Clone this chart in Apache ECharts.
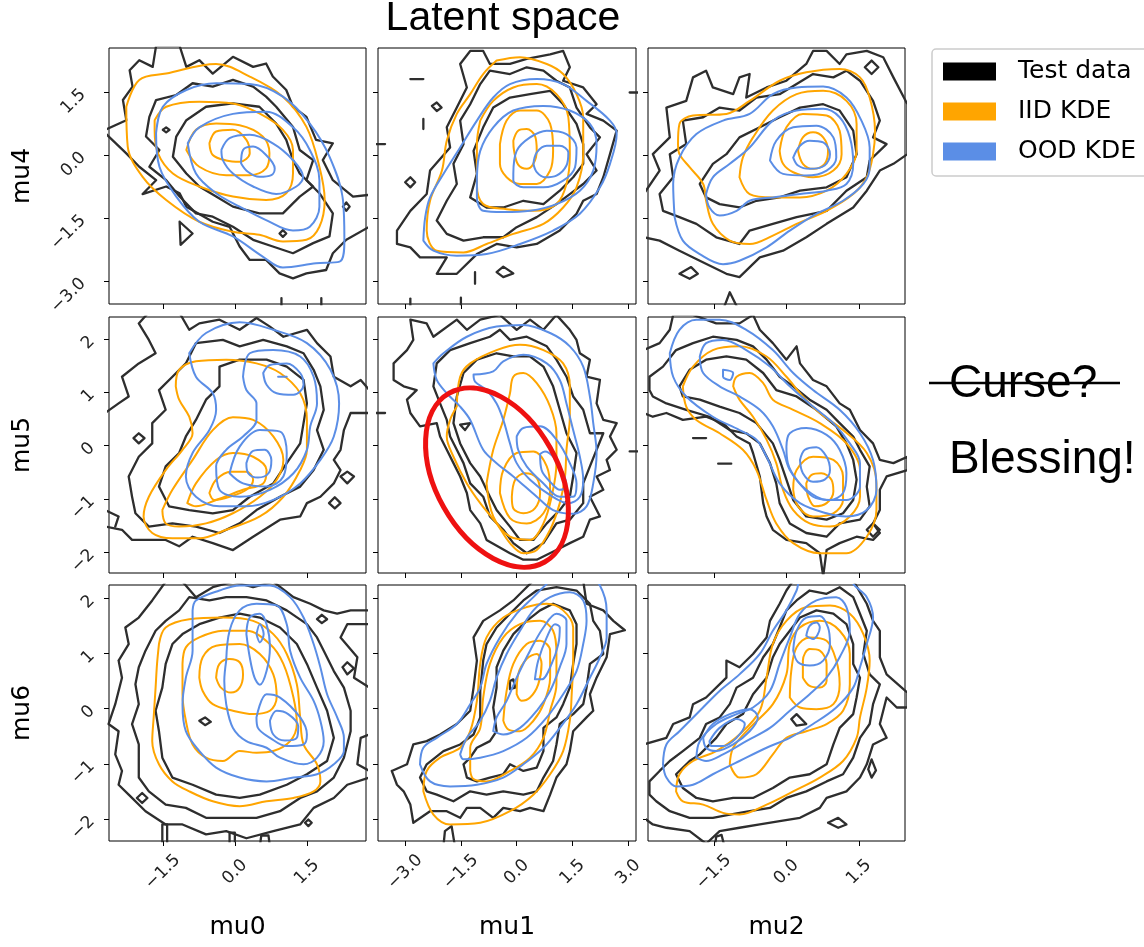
<!DOCTYPE html>
<html><head><meta charset="utf-8">
<script src="https://cdn.jsdelivr.net/npm/echarts@6/dist/echarts.min.js"></script>
<style>html,body{margin:0;padding:0;background:#fff}#c{width:1144px;height:947px}</style>
</head><body><div id="c"></div>
<script>
// ---------- axes / labels ----------
const rowNames = ['mu4','mu5','mu6'];
const colNames = ['mu0','mu1','mu2'];
const colRanges = [[-2.62,2.73],[-3.73,3.21],[-2.86,2.45]];
const rowRanges = [[-3.55,2.55],[-2.39,2.41],[-2.40,2.24]];
const colTicks = [[-1.5,0,1.5],[-3,-1.5,0,1.5,3],[-1.5,0,1.5]];
const colTickLabels = [['−1.5','0.0','1.5'],['−3.0','−1.5','0.0','1.5','3.0'],['−1.5','0.0','1.5']];
const rowTicks = [[1.5,0,-1.5,-3],[2,1,0,-1,-2],[2,1,0,-1,-2]];
const rowTickLabels = [['1.5','0.0','−1.5','−3.0'],['2','1','0','−1','−2'],['2','1','0','−1','−2']];
const legendNames = ['Test data','IID KDE','OOD KDE'];

// ---------- contour data (flat x,y lists) ----------
// row mu4 / col mu0
const r1c1_test = [
 [-2.7,0.60,-2.26,0.83,-2.33,1.31,-2.13,1.63,-2.19,2.02,-1.99,2.26,-1.71,2.10,-1.64,2.6,-1.15,2.6,-1.01,2.10,-0.74,2.26,-0.46,1.94,-0.04,2.34,0.38,2.10,0.65,2.18,0.79,1.87,1.07,1.55,1.21,1.15,1.49,0.91,1.69,0.36,2.04,0.28,1.83,-0.12,2.04,-0.60,2.46,-0.99,2.8,-0.95,2.8,-1.71,2.32,-2.02,2.04,-2.34,1.90,-2.74,1.49,-2.82,1.21,-2.94,0.93,-2.82,0.65,-2.50,0.31,-2.50,0.10,-2.18,-0.11,-1.71,-0.46,-1.59,-1.01,-1.23,-1.15,-0.91,-1.43,-0.75,-1.92,-0.93,-1.64,-0.60,-1.99,-0.28,-2.26,0.04,-2.7,0.52],
 [-1.78,0.91,-1.64,1.31,-1.22,1.43,-0.88,1.71,-0.46,1.63,-0.04,1.79,0.38,1.63,0.65,1.39,0.86,1.15,1.21,0.67,1.35,0.12,1.63,-0.12,1.49,-0.60,1.76,-0.91,2.04,-1.39,1.97,-1.94,1.63,-2.10,1.21,-2.34,0.79,-2.18,0.38,-2.02,-0.04,-1.71,-0.46,-1.47,-0.81,-1.39,-1.15,-0.99,-1.43,-0.60,-1.78,-0.28,-1.57,0.12,-1.85,0.44],
 [-1.22,0.44,-1.01,0.83,-0.60,1.15,-0.04,1.23,0.51,1.15,0.86,0.75,1.07,0.36,1.21,-0.12,1.35,-0.44,1.63,-0.75,1.35,-0.99,1.0,-1.39,0.51,-1.39,-0.04,-1.23,-0.39,-0.99,-0.74,-0.75,-1.01,-0.44,-1.29,-0.04],
 [-1.15,-1.59,-0.88,-1.87,-1.13,-2.14],
 [2.25,-1.23,2.32,-1.13,2.39,-1.23,2.32,-1.33],
 [-1.50,0.60,-1.43,0.66,-1.36,0.60,-1.43,0.54],
 [0.93,-1.87,1.0,-1.79,1.07,-1.87,1.0,-1.95]
];
const r1c1_testOpen = [[0.97,-3.41,0.97,-3.6],[1.80,-3.41,1.80,-3.6]];
const r1c1_iid = [
 [-2.26,1.15,-1.99,1.79,-1.43,1.94,-0.39,2.17,0.31,1.87,1.0,1.39,1.49,0.67,1.76,-0.28,1.87,-1.07,1.76,-1.71,1.49,-2.02,1.0,-2.06,0.51,-1.90,-0.04,-1.83,-0.74,-1.59,-1.43,-1.07,-1.92,-0.52,-2.23,0.20],
 [-1.67,0.83,-1.43,1.15,-0.74,1.27,-0.04,1.23,0.51,0.99,1.0,0.60,1.21,0.12,1.21,-0.44,1.07,-0.91,0.65,-1.07,-0.04,-0.99,-0.74,-0.75,-1.29,-0.44,-1.60,0.04,-1.67,0.60],
 [-1.01,0.12,-0.81,0.60,-0.39,0.75,0.10,0.71,0.58,0.44,0.72,0.04,0.65,-0.32,0.31,-0.48,-0.18,-0.48,-0.74,-0.28],
 [-0.53,0.28,-0.39,0.56,-0.04,0.60,0.24,0.36,0.31,0.04,0.10,-0.16,-0.18,-0.13,-0.46,0.0]
];
const r1c1_ood = [
 [-1.64,0.52,-1.50,1.15,-1.01,1.55,-0.39,1.71,0.31,1.69,1.0,1.39,1.56,0.75,1.97,-0.04,2.25,-1.07,2.28,-2.02,2.18,-2.54,1.69,-2.58,1.0,-2.68,0.58,-2.42,-0.04,-1.94,-0.74,-1.59,-1.22,-0.99,-1.57,-0.28],
 [-0.98,0.28,-0.74,0.66,-0.04,0.98,0.65,1.03,1.21,0.66,1.56,0.12,1.76,-0.60,1.76,-1.23,1.56,-1.71,1.21,-1.80,0.65,-1.55,0.10,-1.23,-0.39,-0.91,-0.81,-0.44],
 [-0.28,0.12,-0.11,0.40,0.31,0.48,0.79,0.28,1.21,-0.12,1.42,-0.52,1.28,-0.75,0.86,-0.93,0.38,-0.75,-0.04,-0.44,-0.25,-0.12],
 [0.13,-0.20,0.17,0.12,0.38,0.20,0.65,0.0,0.83,-0.32,0.76,-0.48,0.51,-0.52,0.27,-0.40]
];
// row mu4 / col mu1
const r1c2_test = [
 [-3.22,-1.80,-2.86,-1.33,-2.42,-0.93,-2.33,-0.37,-1.79,0.18,-1.88,0.66,-1.61,1.13,-1.34,1.61,-1.52,2.17,-1.25,2.48,-0.90,2.48,-0.72,2.17,-0.18,2.17,0.27,2.29,0.90,2.40,1.25,2.48,1.43,2.09,1.25,1.77,1.79,1.61,2.15,1.21,1.88,0.98,2.33,0.82,2.69,0.58,2.51,0.02,2.33,-0.53,2.15,-0.93,1.79,-1.09,1.61,-1.40,1.16,-1.80,0.54,-2.12,0.0,-2.20,-0.54,-2.12,-1.07,-2.36,-1.61,-2.83,-2.15,-2.83,-1.88,-2.44,-2.60,-2.44,-2.86,-2.20,-3.22,-2.12],
 [-2.15,-1.56,-1.88,-1.09,-1.61,-0.69,-1.70,-0.21,-1.43,0.26,-1.52,0.82,-1.25,1.21,-0.98,1.69,-0.72,2.01,-0.18,1.93,0.27,2.09,0.72,2.01,1.07,1.77,1.43,1.61,1.61,1.13,1.97,0.66,2.24,0.42,1.88,0.02,2.15,-0.37,1.79,-0.69,1.43,-0.93,1.07,-1.17,0.54,-1.48,0.0,-1.72,-0.36,-1.96,-0.90,-1.96,-1.43,-2.04,-1.88,-1.88],
 [-1.25,-1.01,-1.07,-0.45,-1.16,0.10,-0.90,0.66,-0.63,1.13,-0.18,1.37,0.36,1.45,0.90,1.53,1.25,1.21,1.61,0.74,1.79,0.26,1.79,-0.21,1.52,-0.53,1.16,-0.85,0.72,-1.17,0.18,-1.09,-0.36,-1.25,-0.81,-1.25],
 [-3.0,-0.65,-2.86,-0.53,-2.73,-0.65,-2.86,-0.77],
 [-0.54,-2.79,-0.36,-2.66,-0.09,-2.82,-0.36,-2.91],
 [-2.28,1.17,-2.15,1.25,-2.02,1.13,-2.15,1.05]
];
const r1c2_testOpen = [[-2.86,1.81,-2.51,1.81],[-2.51,0.86,-2.51,0.62],[-1.12,-2.79,-1.12,-3.07],[3.04,1.49,3.3,1.49],[-3.8,0.26,-3.54,0.26],[-2.86,-3.42,-2.86,-3.6],[-1.50,-3.40,-1.50,-3.6]];
const r1c2_iid = [
 [-0.54,2.25,0.09,2.33,0.81,2.17,1.25,1.93,1.61,1.45,1.79,0.90,1.79,0.02,1.61,-0.77,1.25,-1.25,0.72,-1.64,-0.09,-1.88,-0.81,-2.12,-1.43,-2.32,-2.15,-2.28,-2.42,-1.80,-2.33,-1.09,-2.01,-0.37,-1.88,0.34,-1.61,0.98,-1.25,1.45,-0.90,1.93],
 [-0.98,0.82,-0.63,1.29,-0.09,1.61,0.54,1.69,1.07,1.45,1.39,0.90,1.43,0.02,1.34,-0.69,1.07,-1.17,0.45,-1.33,-0.27,-1.29,-0.90,-1.17,-1.07,-0.69,-1.07,0.26],
 [-0.45,0.26,-0.27,0.82,0.09,1.06,0.54,1.06,0.90,0.74,0.98,0.10,0.90,-0.37,0.54,-0.69,0.09,-0.69,-0.27,-0.53,-0.45,-0.21],
 [-0.09,0.34,0.04,0.58,0.27,0.62,0.49,0.46,0.54,0.10,0.45,-0.21,0.27,-0.33,0.04,-0.23,-0.07,0.10]
];
const r1c2_ood = [
 [-2.51,-2.04,-2.24,-2.28,-1.61,-2.40,-0.81,-2.36,0.09,-2.12,0.98,-1.80,1.70,-1.40,2.24,-0.77,2.51,-0.21,2.69,0.50,2.51,0.82,1.88,1.29,1.25,1.69,0.54,1.81,-0.18,1.69,-0.63,1.37,-1.07,0.82,-1.52,0.18,-1.97,-0.45,-2.33,-1.01,-2.46,-1.48],
 [-1.07,-0.53,-0.98,0.10,-0.63,0.66,-0.09,1.06,0.72,1.17,1.43,1.06,1.97,0.74,2.15,0.26,2.06,-0.37,1.70,-0.85,1.07,-1.17,0.36,-1.33,-0.36,-1.36,-0.90,-1.33,-1.07,-1.01],
 [-0.09,-0.45,0.0,0.10,0.36,0.42,0.81,0.58,1.34,0.50,1.61,0.18,1.57,-0.29,1.25,-0.61,0.72,-0.77,0.18,-0.77,-0.09,-0.61],
 [0.45,-0.21,0.54,0.06,0.81,0.22,1.16,0.22,1.39,0.06,1.34,-0.25,1.07,-0.49,0.76,-0.53,0.54,-0.41]
];
// row mu4 / col mu2
const r1c3_test = [
 [-2.95,-0.93,-2.62,-0.37,-2.76,0.02,-2.41,0.42,-2.48,1.13,-2.07,1.29,-1.93,1.85,-1.66,2.01,-1.52,1.61,-1.10,1.45,-0.97,1.85,-0.76,1.93,-0.83,1.37,-0.41,1.61,0.0,1.77,0.41,2.17,0.55,2.48,0.83,2.48,1.10,2.17,1.24,2.40,1.66,2.48,2.0,2.33,2.21,1.85,2.5,1.21,2.5,0.02,2.21,-0.21,1.93,-0.37,1.66,-0.85,1.38,-1.25,0.83,-1.64,0.41,-1.96,-0.07,-2.28,-0.55,-2.44,-0.97,-2.91,-1.24,-2.83,-1.79,-2.52,-2.21,-2.28,-2.62,-2.04,-2.95,-1.96],
 [-2.62,-0.93,-2.34,-0.53,-2.41,0.02,-2.07,0.26,-2.14,0.82,-1.72,0.90,-1.38,1.13,-0.97,1.06,-0.62,1.37,-0.14,1.45,0.21,1.69,0.55,1.93,0.97,1.85,1.24,2.01,1.52,1.77,1.79,1.29,1.93,0.82,1.79,0.42,2.07,0.26,1.72,-0.13,1.66,-0.53,1.24,-0.85,0.83,-1.33,0.21,-1.48,-0.28,-1.64,-0.76,-1.80,-0.97,-2.12,-1.45,-1.96,-1.86,-1.64,-2.21,-1.48,-2.55,-1.33],
 [-1.79,-0.69,-1.52,-0.21,-1.24,0.02,-0.97,0.42,-0.55,0.66,-0.14,0.90,0.28,1.13,0.76,1.21,1.10,1.06,1.38,0.58,1.45,0.02,1.24,-0.53,0.83,-0.77,0.28,-0.85,-0.14,-1.01,-0.62,-1.09,-0.97,-1.25,-1.38,-1.17,-1.66,-1.01],
 [-2.21,-2.83,-1.97,-2.67,-1.83,-2.83,-2.0,-2.95],
 [1.62,2.09,1.76,2.25,1.90,2.09,1.76,1.93]
];
const r1c3_testOpen = [[-1.28,-3.6,-1.17,-3.27,-1.03,-3.6]];
const r1c3_iid = [
 [-2.24,0.26,-2.21,0.74,-1.93,0.94,-1.24,0.98,-0.76,1.29,-0.14,1.77,0.41,1.97,1.10,2.05,1.52,1.85,1.72,1.37,1.83,0.58,1.79,0.02,1.66,-0.53,1.38,-0.93,0.83,-1.33,0.21,-1.64,-0.28,-1.92,-0.76,-2.12,-1.17,-2.04,-1.52,-1.64,-1.66,-1.09,-1.72,-0.69,-2.0,-0.29,-2.21,0.02],
 [-0.97,-0.53,-0.90,-0.06,-0.69,0.42,-0.28,1.06,0.21,1.45,0.76,1.53,1.24,1.29,1.45,0.74,1.45,0.10,1.24,-0.45,0.83,-0.85,0.28,-1.01,-0.28,-1.01,-0.76,-0.93],
 [-0.14,0.10,0.0,0.66,0.34,0.98,0.83,0.94,1.10,0.58,1.14,0.02,0.97,-0.37,0.55,-0.53,0.14,-0.41,-0.07,-0.21],
 [0.24,0.10,0.34,0.42,0.55,0.54,0.76,0.42,0.86,0.10,0.79,-0.21,0.55,-0.33,0.34,-0.21]
];
const r1c3_ood = [
 [-2.31,-1.48,-2.34,-0.69,-2.21,-0.06,-1.86,0.50,-1.31,0.82,-0.76,0.98,-0.28,1.45,0.21,1.61,0.76,1.63,1.24,1.37,1.55,0.82,1.72,0.18,1.72,-0.29,1.59,-0.69,1.17,-1.09,0.62,-1.40,0.07,-1.80,-0.41,-2.20,-0.97,-2.52,-1.31,-2.60,-1.79,-2.36,-2.14,-2.04],
 [-1.66,-0.93,-1.52,-0.53,-1.17,-0.21,-0.76,0.18,-0.28,0.82,0.21,1.06,0.76,1.10,1.10,0.90,1.31,0.42,1.38,-0.21,1.24,-0.69,0.83,-0.85,0.28,-0.93,-0.28,-1.01,-0.76,-1.09,-1.03,-1.33,-1.38,-1.44,-1.59,-1.25],
 [-0.34,-0.13,-0.21,0.34,0.14,0.66,0.62,0.70,0.97,0.42,1.03,-0.06,0.83,-0.37,0.41,-0.49,-0.07,-0.45],
 [0.14,-0.06,0.28,0.22,0.48,0.34,0.76,0.30,0.90,0.02,0.79,-0.25,0.48,-0.33,0.24,-0.25]
];
// row mu5 / col mu0
const r2c1_test = [
 [-2.7,0.61,-2.42,0.79,-2.21,0.92,-2.35,1.29,-2.0,1.54,-1.65,1.73,-1.79,1.98,-2.0,2.29,-1.79,2.5,-1.16,2.5,-0.95,2.17,-0.74,2.29,-0.32,2.36,0.10,2.17,0.45,2.39,0.73,2.23,1.01,2.04,1.50,2.17,1.71,1.92,1.99,1.67,2.06,1.29,2.41,1.11,2.62,1.23,2.8,1.04,2.8,0.61,2.41,0.61,2.27,0.29,2.20,-0.08,2.06,-0.27,2.20,-0.46,2.06,-0.71,1.78,-0.96,1.50,-1.08,1.36,-1.33,0.94,-1.39,0.38,-1.71,-0.04,-1.96,-0.46,-1.83,-0.88,-1.71,-1.16,-1.89,-1.44,-1.77,-1.79,-1.77,-2.14,-1.77,-2.35,-1.58,-2.7,-1.52],
 [-2.14,-0.96,-2.21,-0.58,-2.0,-0.21,-1.72,0.04,-1.72,0.42,-1.44,0.67,-1.58,1.04,-1.30,1.29,-1.02,1.54,-0.81,1.92,-0.25,1.98,0.10,1.86,0.59,1.98,1.08,1.86,1.43,1.73,1.64,1.42,1.78,1.11,1.85,0.67,1.71,0.29,1.85,-0.08,1.64,-0.46,1.36,-0.77,0.94,-0.96,0.45,-1.21,0.10,-1.46,-0.32,-1.64,-0.81,-1.52,-1.30,-1.46,-1.79,-1.52,-2.07,-1.27],
 [-1.58,-0.77,-1.44,-0.39,-1.16,-0.14,-1.02,0.17,-0.81,0.48,-0.60,0.86,-0.32,1.11,-0.32,1.48,0.10,1.61,0.66,1.61,1.08,1.48,1.43,1.23,1.50,0.79,1.43,0.42,1.36,0.04,1.08,-0.33,0.80,-0.71,0.31,-0.96,-0.04,-1.21,-0.46,-1.27,-0.95,-1.21,-1.37,-1.14],
 [-2.11,0.14,-2.0,0.23,-1.88,0.14,-2.0,0.04],
 [1.96,-1.08,2.08,-0.97,2.20,-1.08,2.08,-1.18],
 [2.20,-0.58,2.34,-0.49,2.48,-0.58,2.34,-0.71]
];
const r2c1_testOpen = [[-2.7,-1.21,-2.42,-1.33,-2.49,-1.52]];
const r2c1_iid = [
 [-1.23,1.11,-1.16,1.42,-0.81,1.58,-0.18,1.61,0.45,1.54,0.94,1.36,1.36,0.98,1.50,0.48,1.50,-0.08,1.36,-0.46,1.01,-0.96,0.52,-1.33,-0.18,-1.58,-0.74,-1.74,-1.30,-1.74,-1.72,-1.64,-1.90,-1.33,-1.79,-0.96,-1.44,-0.46,-1.09,-0.08,-0.88,0.23,-0.95,0.54,-1.16,0.86],
 [-1.51,-1.21,-1.30,-0.83,-0.88,-0.27,-0.46,0.29,-0.04,0.53,0.38,0.48,0.80,0.17,1.01,-0.27,0.87,-0.64,0.52,-0.96,-0.04,-1.27,-0.60,-1.46,-1.16,-1.52,-1.44,-1.46],
 [-0.99,-1.08,-0.81,-0.71,-0.39,-0.27,-0.04,-0.14,0.38,-0.21,0.66,-0.46,0.59,-0.71,0.17,-0.83,-0.39,-1.02,-0.81,-1.14],
 [-0.53,-0.89,-0.39,-0.64,-0.08,-0.49,0.24,-0.49,0.38,-0.64,0.24,-0.83,-0.11,-0.96,-0.43,-1.02]
];
const r2c1_ood = [
 [-0.95,1.73,-0.60,2.11,0.10,2.31,0.80,2.17,1.50,1.92,1.99,1.42,2.17,0.79,2.06,0.17,1.78,-0.27,1.36,-0.71,0.80,-1.02,0.24,-1.14,-0.32,-1.14,-0.81,-0.96,-1.02,-0.58,-0.88,-0.14,-0.53,0.29,-0.39,0.67,-0.46,0.98,-0.81,1.29],
 [0.17,1.29,0.31,1.73,0.80,1.79,1.36,1.67,1.64,1.29,1.71,0.79,1.57,0.36,1.50,-0.08,1.22,-0.52,0.73,-0.83,0.10,-0.96,-0.32,-0.83,-0.39,-0.39,-0.18,-0.08,0.17,0.17,0.45,0.48,0.45,0.79,0.24,1.04],
 [0.59,1.36,0.73,1.51,1.08,1.54,1.36,1.36,1.43,1.14,1.22,0.95,0.87,0.98,0.66,1.14],
 [-0.11,-0.52,0.10,-0.02,0.52,0.29,0.94,0.26,1.08,-0.14,1.01,-0.58,0.66,-0.77,0.17,-0.71],
 [0.24,-0.33,0.38,-0.10,0.62,-0.08,0.76,-0.27,0.70,-0.52,0.48,-0.60,0.28,-0.52],
 [0.90,1.29,1.08,1.29]
];
// row mu5 / col mu1
const r2c2_test = [
 [-3.31,1.54,-2.95,1.79,-2.78,1.98,-2.86,2.36,-2.42,2.29,-2.24,2.04,-1.61,2.36,-1.34,2.17,-0.98,2.36,-0.45,2.45,0.0,2.17,0.36,2.36,0.72,2.17,1.07,2.45,1.43,2.17,1.61,1.98,1.70,1.73,1.97,1.61,1.88,1.29,2.24,1.23,2.15,0.79,2.33,0.48,2.69,0.42,2.51,0.17,2.69,-0.08,2.42,-0.27,2.51,-0.46,2.15,-0.58,2.33,-0.83,1.97,-0.96,2.24,-1.33,1.97,-1.39,1.79,-1.71,1.43,-1.83,1.07,-1.96,0.54,-2.14,0.18,-2.14,-0.18,-2.02,-0.81,-1.77,-0.98,-1.46,-1.25,-1.21,-1.34,-0.89,-1.52,-0.58,-1.70,-0.33,-1.88,-0.08,-2.06,0.17,-2.15,0.42,-2.60,0.36,-2.86,0.61,-2.95,0.86,-2.69,1.04,-3.04,1.11,-3.31,1.23],
 [-2.15,1.54,-1.79,1.79,-1.25,1.92,-0.72,2.04,-0.45,2.17,-0.18,1.98,0.27,2.04,0.81,1.86,1.07,1.61,1.34,1.29,1.52,0.92,1.79,0.67,1.97,0.23,2.33,0.23,2.15,-0.08,1.97,-0.39,1.79,-0.71,1.79,-1.08,1.43,-1.39,1.07,-1.46,0.72,-1.83,0.27,-2.02,-0.09,-1.83,-0.36,-1.58,-0.72,-1.33,-0.90,-0.96,-1.25,-0.71,-1.43,-0.33,-1.61,-0.08,-1.79,0.17,-1.88,0.48,-2.06,0.79,-2.24,1.11],
 [-1.61,0.92,-1.43,1.36,-1.07,1.61,-0.54,1.73,-0.09,1.67,0.36,1.67,0.72,1.48,0.98,1.11,1.16,0.67,1.34,0.23,1.61,-0.14,1.52,-0.58,1.43,-0.96,1.16,-1.21,0.81,-1.46,0.45,-1.77,0.09,-1.77,-0.18,-1.52,-0.54,-1.21,-0.72,-0.96,-0.98,-0.58,-1.25,-0.33,-1.52,0.04,-1.70,0.42],
 [-1.52,0.39,-1.25,0.42,-1.39,0.29]
];
const r2c2_testOpen = [[-3.8,0.61,-3.54,0.61],[3.04,-0.11,3.3,-0.11]];
const r2c2_iid = [
 [-1.61,0.73,-1.52,1.29,-1.25,1.54,-0.54,1.79,0.09,1.89,0.72,1.79,1.25,1.54,1.43,1.11,1.43,0.54,1.34,-0.08,1.30,-0.58,1.16,-1.08,0.90,-1.58,0.54,-1.96,0.18,-2.02,-0.18,-1.83,-0.54,-1.46,-0.98,-1.08,-1.34,-0.71,-1.70,-0.21,-1.88,0.17,-1.79,0.48],
 [-0.81,-0.71,-0.63,-0.08,-0.36,0.48,-0.18,0.98,-0.09,1.29,0.18,1.36,0.54,1.17,0.90,0.73,1.07,0.23,1.07,-0.33,0.94,-0.96,0.72,-1.46,0.36,-1.77,-0.18,-1.71,-0.63,-1.33],
 [-0.45,-0.89,-0.36,-0.46,0.0,-0.14,0.45,-0.11,0.81,-0.39,0.90,-0.83,0.72,-1.27,0.27,-1.46,-0.18,-1.36],
 [-0.13,-0.96,-0.04,-0.64,0.22,-0.52,0.54,-0.61,0.63,-0.89,0.49,-1.18,0.18,-1.27,-0.09,-1.18]
];
const r2c2_ood = [
 [-2.24,1.54,-1.97,1.73,-1.34,2.04,-0.54,2.23,0.18,2.26,0.90,2.11,1.43,1.86,1.79,1.48,1.97,0.92,2.06,0.42,2.15,-0.14,2.06,-0.71,1.88,-1.14,1.52,-1.28,0.98,-1.21,0.54,-0.96,-0.09,-0.58,-0.54,-0.33,-0.90,-0.08,-1.25,0.48,-1.52,0.73,-1.88,0.98,-2.15,1.23],
 [-1.16,1.33,-0.63,1.39,-0.36,1.58,0.18,1.70,0.81,1.54,1.16,1.23,1.34,0.79,1.52,0.29,1.70,-0.21,1.79,-0.64,1.70,-0.96,1.39,-1.08,0.90,-0.93,0.36,-0.64,0.0,-0.33,-0.18,0.04,-0.36,0.48,-0.54,0.79,-0.81,1.04,-1.12,1.20],
 [0.0,0.17,0.18,0.33,0.63,0.36,1.07,0.11,1.43,-0.33,1.61,-0.71,1.52,-0.96,1.16,-0.96,0.72,-0.71,0.27,-0.39,0.04,-0.08],
 [0.63,-0.16,0.76,-0.11,0.98,-0.21,1.25,-0.52,1.34,-0.77,1.16,-0.83,0.94,-0.71,0.67,-0.46]
];
// row mu5 / col mu2
const r2c3_test = [
 [-2.95,1.79,-2.62,1.92,-2.41,2.17,-2.34,2.45,-1.93,2.45,-1.45,2.29,-0.97,2.29,-0.69,2.45,-0.55,2.17,-0.28,1.92,0.0,1.61,0.21,1.86,0.28,1.54,0.55,1.23,0.83,1.11,1.10,0.79,1.31,0.67,1.52,0.29,1.79,0.04,1.93,-0.27,2.21,-0.33,2.5,-0.21,2.5,-0.46,2.07,-0.58,1.93,-0.83,1.93,-1.21,1.79,-1.46,1.93,-1.64,1.79,-1.77,1.45,-1.71,1.10,-1.83,0.83,-1.96,0.76,-2.45,0.69,-2.02,0.41,-1.83,0.0,-1.77,-0.28,-1.58,-0.41,-1.33,-0.48,-1.08,-0.55,-0.58,-0.69,-0.14,-0.76,0.04,-1.03,0.17,-1.31,0.42,-1.66,0.54,-2.14,0.48,-2.48,0.61,-2.76,0.54,-2.95,0.61],
 [-2.83,1.29,-2.55,1.48,-2.28,1.79,-1.93,1.92,-1.52,2.04,-1.03,1.98,-0.69,1.86,-0.41,1.61,-0.14,1.29,0.14,1.11,0.48,0.86,0.83,0.67,1.10,0.42,1.38,0.17,1.52,-0.08,1.72,-0.39,1.66,-0.77,1.72,-1.14,1.52,-1.39,1.10,-1.46,0.83,-1.71,0.41,-1.64,0.07,-1.46,-0.14,-1.08,-0.21,-0.71,-0.34,-0.33,-0.55,0.04,-0.83,0.23,-1.17,0.29,-1.59,0.54,-2.07,0.67,-2.48,0.79,-2.76,0.92,-2.83,1.04],
 [-2.21,1.11,-2.0,1.42,-1.66,1.61,-1.24,1.67,-0.83,1.61,-0.48,1.36,-0.21,1.04,0.21,0.92,0.62,0.67,1.03,0.36,1.24,0.04,1.38,-0.27,1.45,-0.64,1.38,-1.02,1.17,-1.27,0.83,-1.39,0.41,-1.33,0.14,-1.02,0.0,-0.64,-0.14,-0.27,-0.28,0.04,-0.62,0.42,-0.97,0.61,-1.38,0.73,-1.79,0.86,-2.14,0.92],
 [1.66,-1.58,1.79,-1.46,1.93,-1.58,1.79,-1.71]
];
const r2c3_testOpen = [[-1.93,0.14,-1.66,0.14],[-1.41,-0.34,-1.14,-0.34]];
const r2c3_iid = [
 [-2.14,1.11,-1.93,1.48,-1.52,1.79,-0.97,1.86,-0.41,1.67,0.0,1.29,0.34,0.92,0.69,0.61,1.17,0.29,1.66,-0.14,1.86,-0.71,1.86,-1.21,1.66,-1.71,1.24,-2.02,0.69,-2.02,0.14,-1.83,-0.21,-1.46,-0.41,-1.02,-0.62,-0.46,-0.90,-0.08,-1.38,0.23,-1.86,0.48,-2.07,0.73],
 [-1.10,1.11,-1.03,1.29,-0.76,1.36,-0.48,1.17,-0.28,0.86,0.14,0.67,0.69,0.42,1.24,0.04,1.52,-0.46,1.52,-0.96,1.31,-1.33,0.90,-1.52,0.48,-1.46,0.14,-1.21,-0.07,-0.83,-0.21,-0.33,-0.41,0.11,-0.69,0.54,-0.97,0.86],
 [0.14,-0.83,0.21,-0.46,0.55,-0.21,0.97,-0.27,1.17,-0.58,1.17,-1.02,0.97,-1.27,0.55,-1.33,0.24,-1.14],
 [0.41,-0.71,0.52,-0.55,0.72,-0.52,0.93,-0.64,0.97,-0.86,0.83,-1.08,0.59,-1.14,0.45,-0.96]
];
const r2c3_ood = [
 [-2.41,1.73,-2.21,2.17,-1.86,2.36,-1.38,2.36,-0.83,2.17,-0.28,1.79,0.14,1.36,0.55,1.04,1.10,0.67,1.52,0.23,1.79,-0.27,1.86,-0.83,1.66,-1.21,1.24,-1.33,0.83,-1.27,0.28,-1.08,-0.14,-0.71,-0.41,-0.21,-0.62,0.11,-0.97,0.29,-1.52,0.54,-2.07,0.92,-2.34,1.29],
 [-1.79,1.67,-1.66,1.92,-1.31,1.98,-0.83,1.79,-0.34,1.48,0.07,1.11,0.55,0.73,0.97,0.42,1.31,0.04,1.52,-0.33,1.52,-0.77,1.24,-1.02,0.83,-1.02,0.41,-0.83,0.07,-0.46,-0.07,-0.08,-0.28,0.36,-0.55,0.67,-0.97,0.92,-1.38,1.11,-1.72,1.36],
 [0.0,-0.02,0.07,0.23,0.41,0.33,0.83,0.20,1.10,-0.08,1.24,-0.52,1.17,-0.89,0.90,-1.02,0.55,-0.96,0.21,-0.64,0.03,-0.33],
 [0.28,-0.27,0.38,-0.08,0.62,-0.03,0.83,-0.21,0.90,-0.46,0.79,-0.64,0.55,-0.68,0.34,-0.52],
 [-1.31,1.42,-1.10,1.36,-1.17,1.23,-1.31,1.29]
];
// row mu6 / col mu0
const r3c1_test = [
 [-2.42,0.87,-2.21,1.17,-2.28,1.47,-2.0,1.65,-1.72,1.96,-1.44,2.3,-1.09,2.3,-0.81,2.02,-0.46,2.2,-0.04,2.3,0.38,2.2,0.80,2.3,1.22,2.02,1.57,1.90,1.85,1.78,2.13,1.72,2.41,1.78,2.8,1.78,2.8,1.53,2.34,1.53,2.20,1.29,2.55,0.93,2.48,0.56,2.8,0.38,2.8,-0.47,2.62,-0.53,2.55,-1.01,2.8,-1.13,2.8,-1.25,2.34,-1.38,2.06,-1.62,1.64,-1.80,1.36,-2.10,0.80,-2.22,0.24,-2.35,-0.18,-2.22,-0.60,-2.28,-1.09,-2.10,-1.44,-2.10,-1.86,-1.86,-2.21,-1.56,-2.42,-1.38,-2.35,-1.13,-2.49,-0.83,-2.42,-0.41,-2.63,-0.28,-2.49,0.08,-2.35,0.56],
 [-2.0,-0.65,-2.14,-0.28,-2.0,0.08,-2.07,0.44,-2.0,0.75,-1.86,1.05,-1.65,1.41,-1.44,1.59,-1.16,1.78,-0.95,2.02,-0.53,1.96,-0.18,2.02,0.24,2.02,0.66,1.96,1.08,1.78,1.50,1.53,1.71,1.29,1.85,1.05,2.06,0.68,2.27,0.38,2.41,-0.04,2.41,-0.41,2.27,-0.89,2.06,-1.25,1.71,-1.50,1.36,-1.62,0.94,-1.86,0.45,-1.98,-0.04,-1.98,-0.60,-1.98,-1.02,-1.80,-1.44,-1.74,-1.79,-1.50,-2.0,-1.25,-2.0,-0.95],
 [-1.58,-0.41,-1.65,-0.04,-1.51,0.38,-1.44,0.81,-1.30,1.17,-1.09,1.35,-0.74,1.53,-0.32,1.65,0.10,1.72,0.52,1.65,0.94,1.47,1.29,1.17,1.50,0.81,1.71,0.38,1.92,-0.04,2.06,-0.53,1.92,-0.95,1.50,-1.19,1.08,-1.38,0.52,-1.56,0.10,-1.62,-0.39,-1.56,-0.88,-1.38,-1.30,-1.25,-1.51,-0.89],
 [-2.04,-1.62,-1.93,-1.53,-1.82,-1.62,-1.93,-1.71],
 [2.24,0.75,2.34,0.84,2.48,0.73,2.34,0.62],
 [-0.74,-0.22,-0.62,-0.16,-0.50,-0.24,-0.62,-0.30],
 [1.71,1.62,1.81,1.70,1.92,1.62,1.81,1.55],
 [1.46,-2.07,1.53,-2.01,1.60,-2.07,1.53,-2.13]
];
const r3c1_testOpen = [[-1.51,-2.5,-1.51,-2.10,-1.41,-2.10,-1.41,-2.5],[-0.11,-2.5,-0.11,-2.25,0.0,-2.25,0.0,-2.5],[0.52,-2.5,0.55,-2.30,0.70,-2.30,0.73,-2.5]];
const r3c1_iid = [
 [-1.58,1.17,-1.44,1.47,-0.95,1.62,-0.25,1.65,0.38,1.59,0.80,1.35,1.08,0.99,1.29,0.44,1.36,-0.16,1.43,-0.65,1.71,-1.01,1.78,-1.32,1.64,-1.50,1.22,-1.62,0.66,-1.68,0.10,-1.77,-0.46,-1.68,-0.95,-1.50,-1.30,-1.32,-1.58,-1.01,-1.72,-0.59,-1.69,-0.16,-1.65,0.38,-1.62,0.81],
 [-1.09,0.81,-1.02,1.11,-0.74,1.29,-0.25,1.41,0.24,1.41,0.73,1.17,1.01,0.81,1.22,0.20,1.29,-0.28,1.15,-0.59,0.80,-0.77,0.45,-0.80,0.10,-0.77,-0.25,-0.95,-0.60,-0.89,-0.88,-0.65,-1.02,-0.22,-1.09,0.26],
 [-0.74,0.56,-0.67,0.93,-0.39,1.14,0.10,1.17,0.52,0.99,0.80,0.62,0.87,0.20,0.73,-0.04,0.38,-0.10,-0.04,-0.04,-0.46,0.08,-0.67,0.32],
 [-0.39,0.56,-0.32,0.81,-0.11,0.90,0.10,0.84,0.17,0.62,0.10,0.38,-0.08,0.29,-0.29,0.38]
];
const r3c1_ood = [
 [-0.88,1.78,-0.81,1.96,-0.32,2.14,0.10,2.23,0.73,2.23,1.15,2.02,1.43,1.65,1.64,1.17,1.78,0.75,1.92,0.26,2.13,-0.16,2.27,-0.53,2.27,-0.77,2.06,-1.01,1.71,-1.19,1.22,-1.25,0.66,-1.32,0.10,-1.25,-0.39,-1.07,-0.74,-0.77,-1.02,-0.41,-1.09,0.08,-1.02,0.56,-0.88,1.05,-0.88,1.41],
 [-0.18,0.87,-0.11,1.41,0.10,1.78,0.45,1.90,0.87,1.87,1.08,1.53,1.15,1.05,1.36,0.56,1.64,0.14,1.78,-0.22,1.85,-0.59,1.71,-0.89,1.43,-1.01,0.94,-0.89,0.66,-0.71,0.24,-0.59,-0.04,-0.35,-0.18,0.08,-0.22,0.50],
 [0.24,1.35,0.31,1.65,0.52,1.72,0.66,1.53,0.73,1.11,0.66,0.68,0.52,0.43,0.41,0.56,0.31,0.93],
 [0.45,1.35,0.52,1.53,0.60,1.35,0.52,1.20],
 [0.45,-0.16,0.66,0.26,0.94,0.20,1.36,-0.16,1.50,-0.47,1.43,-0.65,1.08,-0.68,0.73,-0.53,0.48,-0.35],
 [0.73,-0.22,0.87,-0.04,1.11,-0.10,1.32,-0.32,1.29,-0.53,1.04,-0.58,0.80,-0.47]
];
// row mu6 / col mu1
const r3c2_test = [
 [-3.36,-1.13,-2.95,-1.01,-2.78,-0.65,-2.42,-0.59,-2.06,-0.47,-1.61,-0.28,-1.25,-0.04,-1.16,0.38,-1.07,0.87,-1.16,1.29,-0.90,1.59,-0.45,1.78,-0.09,1.96,0.18,2.14,0.45,2.32,1.79,2.32,1.88,1.90,2.33,1.78,2.60,1.59,2.91,1.42,2.51,1.35,2.42,0.93,2.15,0.56,1.97,0.26,2.06,-0.04,1.88,-0.16,1.52,-0.41,1.43,-0.77,1.34,-1.01,1.07,-1.25,0.90,-1.56,0.72,-1.86,0.36,-1.80,0.09,-1.86,-0.36,-1.80,-0.63,-1.98,-0.98,-1.80,-1.34,-1.80,-1.52,-1.98,-1.88,-1.86,-2.33,-1.86,-2.78,-2.07,-2.86,-1.74,-3.04,-1.50,-3.22,-1.38],
 [-2.60,-1.25,-2.42,-1.01,-1.97,-0.77,-1.52,-0.65,-1.16,-0.47,-0.98,-0.16,-0.98,0.32,-0.90,0.87,-0.81,1.17,-0.54,1.47,-0.18,1.72,0.18,1.96,0.54,2.14,1.07,2.20,1.61,2.14,1.97,1.90,2.06,1.59,2.24,1.41,2.33,0.99,1.97,0.81,1.88,0.38,1.79,0.08,1.52,-0.10,1.16,-0.28,1.07,-0.65,0.98,-0.95,0.72,-1.25,0.54,-1.50,0.18,-1.56,-0.36,-1.50,-0.81,-1.56,-1.25,-1.50,-1.70,-1.68,-2.15,-1.56,-2.42,-1.50],
 [-1.43,-1.01,-1.25,-0.89,-1.07,-0.71,-0.72,-0.59,-0.54,-0.41,-0.63,0.02,-0.54,0.38,-0.54,0.75,-0.36,1.05,-0.09,1.35,0.27,1.59,0.63,1.78,0.98,1.90,1.43,1.78,1.61,1.53,1.61,1.17,1.52,0.81,1.43,0.38,1.25,0.08,1.07,-0.16,0.72,-0.35,0.72,-0.77,0.54,-1.07,0.18,-1.13,-0.18,-1.01,-0.36,-1.19,-0.72,-1.25,-1.07,-1.32,-1.34,-1.25],
 [-0.18,0.50,-0.09,0.53,-0.04,0.38,-0.18,0.35]
];
const r3c2_testOpen = [[-1.97,-2.5,-1.93,-2.22,-1.75,-2.13,-1.66,-2.5]];
const r3c2_iid = [
 [-2.51,-1.50,-2.42,-1.13,-2.06,-0.89,-1.52,-0.71,-1.25,-0.41,-1.07,0.14,-0.98,0.81,-0.81,1.29,-0.36,1.65,0.27,1.84,0.81,1.90,1.25,1.78,1.52,1.47,1.52,0.87,1.48,0.26,1.43,-0.22,1.25,-0.77,0.90,-1.19,0.45,-1.56,-0.18,-1.86,-0.98,-2.07,-1.79,-2.10,-2.24,-1.92],
 [-1.25,-1.13,-1.25,-0.71,-0.98,-0.35,-0.90,0.20,-0.72,0.81,-0.36,1.29,0.09,1.53,0.63,1.59,0.98,1.41,1.07,0.99,1.07,0.44,0.90,-0.04,0.72,-0.53,0.36,-0.89,-0.18,-1.13,-0.81,-1.32,-1.16,-1.28],
 [-0.36,-0.22,-0.27,0.32,-0.09,0.81,0.27,1.17,0.63,1.23,0.90,1.05,0.90,0.56,0.72,0.08,0.45,-0.22,0.09,-0.41,-0.22,-0.38],
 [0.0,0.26,0.04,0.62,0.27,0.90,0.54,0.99,0.67,0.81,0.58,0.44,0.36,0.20,0.13,0.14]
];
const r3c2_ood = [
 [-2.60,-1.01,-2.51,-0.71,-2.15,-0.53,-1.61,-0.28,-1.25,0.08,-0.98,0.38,-0.81,0.81,-0.45,1.29,0.0,1.72,0.45,2.02,0.81,2.26,1.16,2.47,1.88,2.47,2.24,2.23,2.42,1.78,2.42,1.29,2.24,0.93,1.97,0.56,1.61,0.08,1.16,-0.35,0.72,-0.71,0.18,-1.01,-0.36,-1.25,-1.07,-1.38,-1.79,-1.41,-2.33,-1.32],
 [-1.52,-0.83,-1.34,-0.53,-0.98,-0.22,-0.72,0.14,-0.54,0.56,-0.27,0.99,0.09,1.41,0.45,1.78,0.90,2.02,1.43,2.11,1.79,1.96,1.88,1.59,1.79,1.17,1.61,0.68,1.25,0.26,0.81,-0.16,0.27,-0.53,-0.36,-0.77,-0.98,-0.89,-1.43,-0.92],
 [-0.63,-0.41,-0.54,-0.16,-0.27,0.14,0.0,0.56,0.36,1.05,0.72,1.47,1.07,1.72,1.34,1.59,1.34,1.17,1.16,0.75,0.90,0.32,0.54,-0.04,0.09,-0.35,-0.36,-0.47],
 [0.49,0.53,0.58,0.87,0.81,1.29,1.03,1.53,1.16,1.47,1.12,1.17,0.94,0.81,0.67,0.53]
];
// row mu6 / col mu2
const r3c3_test = [
 [-2.95,-0.65,-2.48,-0.53,-2.34,-0.28,-2.0,-0.16,-1.93,0.08,-1.66,0.20,-1.24,0.56,-1.24,0.87,-0.97,0.75,-0.69,0.99,-0.41,1.29,-0.34,1.59,-0.14,1.90,0.0,2.14,0.14,2.32,1.38,2.32,1.66,1.90,1.79,1.59,1.93,1.41,1.93,0.93,2.07,0.62,2.5,0.29,2.5,0.02,2.28,0.02,2.07,0.20,1.93,-0.28,2.07,-0.53,1.79,-0.65,1.66,-1.01,1.52,-1.25,1.24,-1.50,0.83,-1.62,0.69,-1.80,0.28,-1.98,-0.14,-2.04,-0.55,-2.10,-0.97,-2.16,-1.38,-2.22,-1.66,-2.45,-2.0,-2.22,-2.48,-2.16,-2.76,-2.10,-2.95,-1.98],
 [-2.83,-1.32,-2.62,-1.13,-2.41,-0.95,-2.14,-0.77,-1.79,-0.53,-1.66,-0.28,-1.38,-0.16,-1.17,0.08,-1.03,0.38,-0.69,0.56,-0.48,0.93,-0.28,1.17,-0.14,1.47,0.0,1.78,0.21,1.96,0.48,2.14,0.83,2.08,1.10,2.20,1.38,2.02,1.52,1.72,1.66,1.41,1.59,0.99,1.72,0.62,1.93,0.44,1.79,0.08,1.72,-0.28,1.52,-0.53,1.38,-0.89,1.17,-1.19,0.83,-1.32,0.41,-1.50,0.0,-1.62,-0.34,-1.80,-0.76,-1.86,-1.17,-1.92,-1.52,-1.98,-2.0,-1.98,-2.41,-1.86,-2.69,-1.68,-2.83,-1.56],
 [-2.28,-1.19,-2.0,-0.95,-1.79,-0.83,-1.45,-0.53,-1.24,-0.28,-0.90,-0.10,-0.69,0.26,-0.41,0.56,-0.28,0.93,-0.14,1.17,0.07,1.41,0.28,1.65,0.62,1.78,0.97,1.72,1.24,1.53,1.38,1.17,1.38,0.81,1.52,0.56,1.45,0.20,1.38,-0.10,1.10,-0.35,0.97,-0.65,0.83,-1.01,0.48,-1.19,0.07,-1.25,-0.28,-1.44,-0.69,-1.62,-1.10,-1.62,-1.52,-1.68,-1.86,-1.62,-2.14,-1.44],
 [1.69,-1.10,1.76,-0.92,1.85,-1.12,1.76,-1.25],
 [0.86,-2.07,1.07,-1.98,1.24,-2.10,1.07,-2.16],
 [0.10,-0.19,0.21,-0.10,0.41,-0.28,0.21,-0.31]
];
const r3c3_testOpen = [[-1.48,-2.5,-1.45,-2.32,-1.34,-2.29,-1.28,-2.5]];
const r3c3_iid = [
 [-2.28,-1.50,-2.21,-1.19,-1.93,-0.95,-1.45,-0.77,-0.97,-0.47,-0.55,-0.04,-0.41,0.56,-0.28,1.17,0.0,1.59,0.41,1.84,0.90,1.87,1.31,1.72,1.59,1.35,1.72,0.87,1.66,0.38,1.52,-0.16,1.45,-0.53,1.17,-0.95,0.69,-1.25,0.14,-1.50,-0.41,-1.74,-0.97,-1.92,-1.31,-1.89,-1.72,-1.74,-2.14,-1.68],
 [-1.17,-1.01,-1.10,-0.71,-0.76,-0.35,-0.28,0.08,0.0,0.62,0.07,1.17,0.28,1.47,0.69,1.59,1.10,1.41,1.31,0.99,1.31,0.44,1.17,-0.04,0.83,-0.28,0.41,-0.41,0.0,-0.53,-0.28,-0.83,-0.62,-1.19,-0.97,-1.25],
 [0.07,0.20,0.10,0.68,0.21,1.11,0.48,1.29,0.83,1.23,1.03,0.87,1.10,0.44,0.97,0.08,0.62,-0.01,0.28,0.02],
 [0.34,0.56,0.34,0.87,0.48,1.08,0.69,1.05,0.83,0.81,0.83,0.50,0.69,0.38,0.48,0.41]
];
const r3c3_ood = [
 [-2.55,-1.01,-2.48,-0.65,-2.21,-0.41,-1.79,-0.04,-1.38,0.32,-0.97,0.62,-0.55,0.99,-0.28,1.41,0.0,1.78,0.21,2.14,0.34,2.45,1.31,2.45,1.38,2.26,1.66,2.02,1.79,1.65,1.66,1.17,1.52,0.75,1.38,0.38,1.03,0.02,0.55,-0.28,0.07,-0.53,-0.41,-0.71,-0.97,-0.95,-1.52,-1.19,-1.93,-1.38,-2.28,-1.41,-2.48,-1.25],
 [-1.86,-0.89,-1.79,-0.59,-1.45,-0.28,-1.03,-0.10,-0.69,0.02,-0.34,0.32,-0.14,0.81,0.07,1.29,0.28,1.72,0.62,1.96,1.03,2.02,1.24,1.84,1.31,1.41,1.10,0.93,0.83,0.56,0.48,0.26,0.07,-0.04,-0.34,-0.35,-0.83,-0.59,-1.31,-0.83,-1.66,-0.95],
 [0.14,1.05,0.21,1.41,0.41,1.65,0.69,1.68,0.86,1.47,0.90,1.17,0.76,0.87,0.48,0.78,0.24,0.84],
 [0.41,1.32,0.48,1.50,0.62,1.56,0.69,1.47,0.55,1.26],
 [-1.72,-0.53,-1.52,-0.28,-1.17,-0.10,-0.76,-0.01,-0.59,-0.16,-0.76,-0.41,-1.10,-0.65,-1.45,-0.77,-1.66,-0.71],
 [-1.59,-0.59,-1.38,-0.35,-1.03,-0.19,-0.86,-0.28,-1.03,-0.53,-1.31,-0.68,-1.55,-0.68]
];

// ---------- build chart ----------
const panels = [
 [r1c1_test, r1c1_testOpen, r1c1_iid, r1c1_ood],
 [r1c2_test, r1c2_testOpen, r1c2_iid, r1c2_ood],
 [r1c3_test, r1c3_testOpen, r1c3_iid, r1c3_ood],
 [r2c1_test, r2c1_testOpen, r2c1_iid, r2c1_ood],
 [r2c2_test, r2c2_testOpen, r2c2_iid, r2c2_ood],
 [r2c3_test, r2c3_testOpen, r2c3_iid, r2c3_ood],
 [r3c1_test, r3c1_testOpen, r3c1_iid, r3c1_ood],
 [r3c2_test, r3c2_testOpen, r3c2_iid, r3c2_ood],
 [r3c3_test, r3c3_testOpen, r3c3_iid, r3c3_ood]
];

const FONT = 'DejaVu Sans';
const colLeft = [109, 378, 648], colW = [257, 258, 257];
const rowTop = [48, 317, 585], rowH = 256;
const C_TEST = '#2e2e2e', C_IID = '#ffa500', C_OOD = '#5b8ee6';

function pairs(flat) { const o = []; for (let i = 0; i < flat.length; i += 2) o.push([flat[i], flat[i + 1]]); return o; }
function lookup(ticks, labels) {
  return v => { const i = ticks.findIndex(t => Math.abs(t - v) < 1e-9); return i >= 0 ? labels[i] : ''; };
}
function mk(flat, g, name, color, legendColor, width, smooth, closed, z) {
  const d = pairs(flat);
  if (closed) d.push(d[0].slice());
  return {
    type: 'line', name, xAxisIndex: g, yAxisIndex: g, data: d,
    symbol: 'none', showSymbol: false, smooth, silent: true, animation: false, z,
    clip: true, connectNulls: false,
    lineStyle: { color, width, join: 'round', cap: 'round' },
    itemStyle: { color: legendColor }, emphasis: { disabled: true }
  };
}

const grids = [], xAxes = [], yAxes = [], series = [];
for (let r = 0; r < 3; r++) {
  for (let c = 0; c < 3; c++) {
    const g = r * 3 + c;
    grids.push({ left: colLeft[c], top: rowTop[r], width: colW[c], height: rowH, show: true,
      borderColor: '#000', borderWidth: 1, backgroundColor: 'transparent', containLabel: false });
    xAxes.push({
      type: 'value', gridIndex: g, min: colRanges[c][0], max: colRanges[c][1],
      axisLine: { show: false, onZero: false }, splitLine: { show: false },
      axisTick: { show: true, inside: false, length: 5, customValues: colTicks[c], lineStyle: { color: '#000', width: 1 } },
      axisLabel: { show: r === 2, customValues: colTicks[c], formatter: lookup(colTicks[c], colTickLabels[c]),
        rotate: 45, align: 'center', verticalAlign: 'middle', margin: 31,
        fontSize: 17, fontFamily: FONT, color: '#222' },
      name: r === 2 ? colNames[c] : '', nameLocation: 'middle', nameGap: 74, nameMoveOverlap: false,
      nameTextStyle: { fontSize: 25, fontFamily: FONT, color: '#000' }
    });
    yAxes.push({
      type: 'value', gridIndex: g, min: rowRanges[r][0], max: rowRanges[r][1],
      axisLine: { show: false, onZero: false }, splitLine: { show: false },
      axisTick: { show: true, inside: false, length: 5, customValues: rowTicks[r], lineStyle: { color: '#000', width: 1 } },
      axisLabel: { show: c === 0, customValues: rowTicks[r], formatter: lookup(rowTicks[r], rowTickLabels[r]),
        rotate: 45, margin: r === 0 ? 26 : 17,
        fontSize: 17, fontFamily: FONT, color: '#222' },
      name: c === 0 ? rowNames[r] : '', nameLocation: 'middle', nameGap: 74, nameMoveOverlap: false,
      nameTextStyle: { fontSize: 25, fontFamily: FONT, color: '#000' }
    });
    const [test, testOpen, iid, ood] = panels[g];
    test.forEach(f => series.push(mk(f, g, legendNames[0], C_TEST, '#000', 2.3, false, true, 2)));
    testOpen.forEach(f => series.push(mk(f, g, legendNames[0], C_TEST, '#000', 2.3, false, false, 2)));
    iid.forEach(f => series.push(mk(f, g, legendNames[1], C_IID, C_IID, 2, 0.35, true, 3)));
    ood.forEach(f => series.push(mk(f, g, legendNames[2], C_OOD, C_OOD, 2, 0.35, true, 4)));
  }
}

const chart = echarts.init(document.getElementById('c'), null, { renderer: 'canvas' });
chart.setOption({
  animation: false,
  backgroundColor: '#fff',
  grid: grids, xAxis: xAxes, yAxis: yAxes, series,
  legend: {
    show: true, orient: 'vertical', left: 932, top: 49, icon: 'rect',
    itemWidth: 53, itemHeight: 18, itemGap: 15, padding: [10, 40, 12, 11],
    borderColor: '#cccccc', borderWidth: 1.5, borderRadius: 4, backgroundColor: '#fff',
    selectedMode: false,
    textStyle: { fontSize: 25, fontFamily: FONT, color: '#000', padding: [0, 0, 0, 17] },
    data: [
      { name: legendNames[0], itemStyle: { color: '#000' } },
      { name: legendNames[1], itemStyle: { color: C_IID } },
      { name: legendNames[2], itemStyle: { color: C_OOD } }
    ]
  },
  graphic: { elements: [
    { id: 'title', type: 'text', x: 503, y: 19, z: 100,
      style: { text: 'Latent space', fontSize: 41, fontFamily: 'Liberation Sans', fill: '#000', align: 'center', verticalAlign: 'middle' } },
    { id: 'curse', type: 'text', x: 949, y: 384, z: 100,
      style: { text: 'Curse?', fontSize: 46, fontFamily: 'Liberation Sans', fill: '#000', align: 'left', verticalAlign: 'middle' } },
    { id: 'strike', type: 'line', z: 101, shape: { x1: 929, y1: 383, x2: 1120, y2: 383 }, style: { stroke: '#000', lineWidth: 2.5 } },
    { id: 'bless', type: 'text', x: 949, y: 460, z: 100,
      style: { text: 'Blessing!', fontSize: 46, fontFamily: 'Liberation Sans', fill: '#000', align: 'left', verticalAlign: 'middle' } }
  ] }
});

// red annotation ellipse over the mu1/mu5 panel
try {
  const ctr = chart.convertToPixel({ gridIndex: 4 }, [-0.53, -0.60]);
  chart.setOption({ graphic: { elements: [
    { id: 'ellipse', type: 'ellipse', x: ctr[0], y: ctr[1], rotation: -1.056, z: 120,
      shape: { cx: 0, cy: 0, rx: 97, ry: 61 }, style: { fill: 'none', stroke: '#ee1111', lineWidth: 5 } }
  ] } });
} catch (e) { console.error(e); }
</script>
</body></html>
